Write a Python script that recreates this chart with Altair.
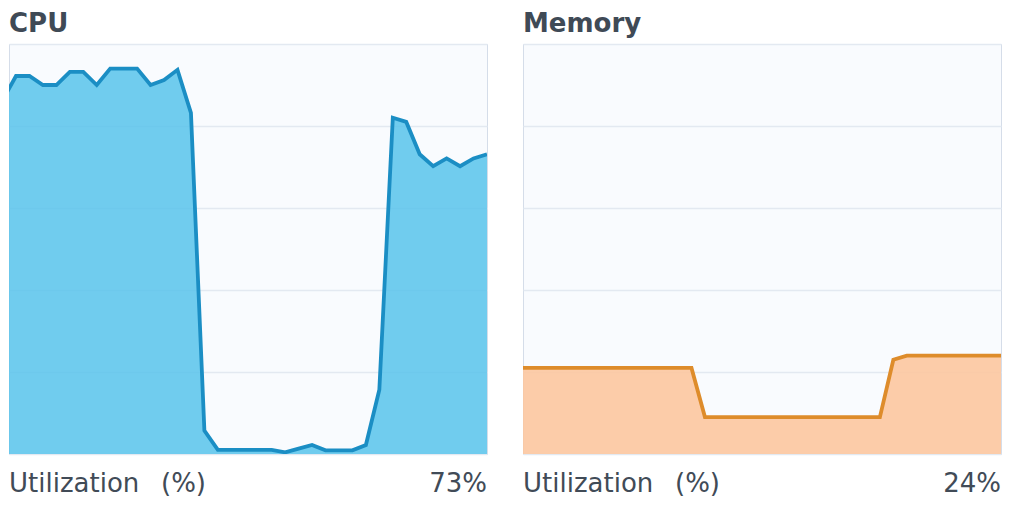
import altair as alt
import pandas as pd

# sample index (first sample lies just before the visible window)
sample_index = list(range(-1, 36))

cpu_util = [86.3, 92.2, 92.2, 90.0, 90.0, 93.2, 93.2, 90.0, 94.0, 94.0, 94.0,
            90.0, 91.2, 93.7, 83.2, 5.7, 1.0, 1.0, 1.0, 1.0, 1.0, 0.4, 1.3,
            2.2, 0.9, 0.9, 0.9, 2.2, 15.7, 82.0, 81.0, 73.1, 70.2, 72.1, 70.2,
            72.1, 73.1]

mem_util = [21.0] * 14 + [9.0] * 14 + [23.0] + [24.0] * 8

panel_titles = ["CPU", "Memory"]
axis_label = "Utilization\u00a0\u00a0\u2009(%)"
grid_values = [0, 20, 40, 60, 80, 100]

TEXT_COLOR = "#414b57"
W, H = 478, 410


def panel(title, values, line_color, fill_color, fill_opacity):
    df = pd.DataFrame({"t": sample_index, "v": values})
    x = alt.X("t:Q", scale=alt.Scale(domain=[-0.52, 35], nice=False, zero=False), axis=None)
    y = alt.Y(
        "v:Q",
        scale=alt.Scale(domain=[0, 100], nice=False),
        axis=alt.Axis(values=grid_values, grid=True, labels=False, ticks=False,
                      domain=False, title=None, gridColor="#e3e9f1", gridWidth=1.5,
                      minExtent=0, maxExtent=0),
    )
    area = alt.Chart(df).mark_area(color=fill_color, opacity=fill_opacity, clip=True).encode(x=x, y=y)
    line = alt.Chart(df).mark_line(color=line_color, strokeWidth=3.8, clip=True).encode(x=x, y="v:Q")
    labels = pd.DataFrame({"left": [axis_label], "right": [f"{round(values[-1])}%"]})
    left_text = alt.Chart(labels).mark_text(
        align="left", baseline="alphabetic", fontSize=26, font="DejaVu Sans", color=TEXT_COLOR
    ).encode(x=alt.value(0), y=alt.value(448), text="left:N")
    right_text = alt.Chart(labels).mark_text(
        align="right", baseline="alphabetic", fontSize=26, font="DejaVu Sans", color=TEXT_COLOR
    ).encode(x=alt.value(W), y=alt.value(448), text="right:N")
    return alt.layer(area, line, left_text, right_text).properties(
        width=W, height=H, title=alt.TitleParams(title)
    )


cpu = panel(panel_titles[0], cpu_util, "#1b8ec4", "#58c3eb", 0.85)
mem = panel(panel_titles[1], mem_util, "#de8c2b", "#fcc6a0", 0.9)

chart = (
    alt.hconcat(cpu, mem, spacing=34)
    .properties(padding={"top": 2, "left": 0, "right": 0, "bottom": 0})
    .configure_view(stroke="#d5dde9", fill="#f9fbfe", strokeWidth=1)
    .configure_title(anchor="start", fontSize=26, font="DejaVu Sans", fontWeight="bold",
                     color="#3f4a56", offset=7)
)

chart.save("out.html", embed_options={"renderer": "svg", "actions": False})
